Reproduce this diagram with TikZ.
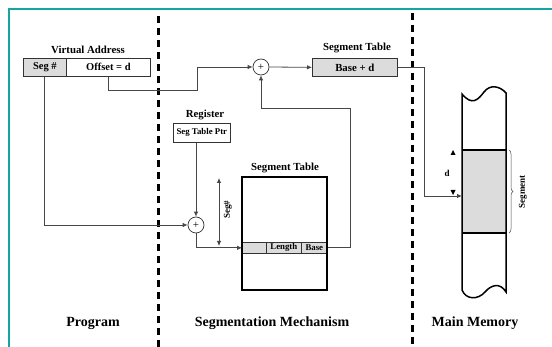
\documentclass[tikz,border=0pt]{standalone}
\usepackage{fontspec}
\setmainfont{Liberation Serif}
\usetikzlibrary{arrows.meta,decorations.pathreplacing,calc}
\definecolor{framecol}{RGB}{20,165,165}
\definecolor{cellgrey}{RGB}{220,220,220}
\tikzset{
  fs/.style={font=\bfseries\fontsize{#1}{#1}\selectfont},
  link/.style={draw=black!72, line width=0.8pt},
  tip/.style={-{Latex[length=5pt,width=4.5pt]}},
  cell/.style={draw=black!80, line width=0.7pt, inner sep=0pt, anchor=north west},
  grey/.style={fill=cellgrey},
  adder/.style={circle, draw=black!80, line width=0.7pt, minimum size=16pt, inner sep=0pt, font=\fontsize{11}{11}\selectfont},
  sepline/.style={line width=3pt, dash pattern=on 7pt off 5pt},
  memline/.style={draw=black, line width=1.5pt},
}
\begin{document}
\begin{tikzpicture}[x=1pt,y=-1pt]
\useasboundingbox (0,0) rectangle (552,347);
\fill[white] (0,0) rectangle (552,347);

% outer frame and column separators
\draw[framecol, line width=1.3pt] (9,347) -- (9,9) -- (552,9);
\draw[sepline] (158,16) -- (158,347);
\draw[sepline] (412,13) -- (412,347);

% virtual address
\node[fs=10.8] (valabel) at (88,50) {Virtual Address};
\node[cell,grey,minimum width=43pt,minimum height=18pt,fs=10.5] (segno) at (23,58) {Seg \#};
\node[cell,minimum width=84pt,minimum height=18pt,fs=10.5] (offset) at (66,58) {Offset = d};

% first adder and base + d
\node[adder] (add1) at (261,67) {+};
\node[fs=10.8] (stlabel) at (357,48) {Segment Table};
\node[cell,grey,minimum width=85pt,minimum height=18pt,fs=10.8] (bd) at (312,58) {Base + d};

% register
\node[fs=10.8] (reglabel) at (205,115) {Register};
\node[cell,fill=white,minimum width=57pt,minimum height=19pt,fs=8.8] (reg) at (173,123) {Seg Table Ptr};

% second adder
\node[adder] (add2) at (196,225) {+};

% segment table
\node[fs=10.8] (tablabel) at (285,168) {Segment Table};
\node[cell,grey,minimum width=24pt,minimum height=11pt] (c0) at (242,242) {};
\node[cell,grey,minimum width=35pt,minimum height=11pt,fs=8.8] (clen) at (266,242) {Length};
\node[cell,grey,minimum width=26pt,minimum height=11pt,fs=8.8] (cbase) at (301,242) {Base};
\draw[black, line width=1.6pt] (242,177) rectangle (327,290);

% seg# extent
\coordinate (segtop) at (219,178);
\coordinate (segbot) at (219,246);
\draw[link,{Latex[length=5pt,width=4.5pt]}-{Latex[length=5pt,width=4.5pt]}] (segtop) -- (segbot);
\node[fs=9,rotate=90] (seglabel) at (228,210) {Seg\#};

% main memory column
\fill[cellgrey] (462,150) rectangle (506,233);
\draw[memline] (462,94) -- (462,290)
  .. controls (466,300) and (478,300) .. (485,292)
  .. controls (491,285) and (500,282) .. (506,292)
  -- (506,93)
  .. controls (500,86) and (490,84) .. (484,92)
  .. controls (478,100) and (472,106) .. (462,94) -- cycle;
\draw[memline] (462,150) -- (506,150);
\draw[memline] (462,233) -- (506,233);
\coordinate (memin) at (462,196);

% offset d markers
\node[fs=9] (dlabel) at (447,173) {d};
\fill (453,150) -- (450.5,155) -- (455.5,155) -- cycle;
\fill (453,195) -- (450.5,190) -- (455.5,190) -- cycle;

% segment brace
\draw[black!70, line width=0.5pt, decorate, decoration={brace, amplitude=4pt}] (509,150) -- (509,233);
\node[fs=9,rotate=90] (segmentlabel) at (523,192) {Segment};

% connectors
\draw[link,tip] (offset.south) -- ++(0,14) -| (197,67) -- (add1.west);
\draw[link,tip] (add1.east) -- (bd.west);
\draw[link,tip] (bd.east) -| (424,196) -- (memin);
\draw[link,tip] (segno.south) |- (add2.west);
\draw[link,tip] (add2.north |- reg.south) -- (add2.north);
\draw[link,tip] (add2.south) |- (c0.west);
\draw[link,tip] (cbase.east) -| (350,108) -| (add1.south);

% column captions
\node[fs=14] (prog) at (93,323) {Program};
\node[fs=14] (mech) at (272,323) {Segmentation Mechanism};
\node[fs=14] (mainmem) at (475,323) {Main Memory};
\end{tikzpicture}
\end{document}
